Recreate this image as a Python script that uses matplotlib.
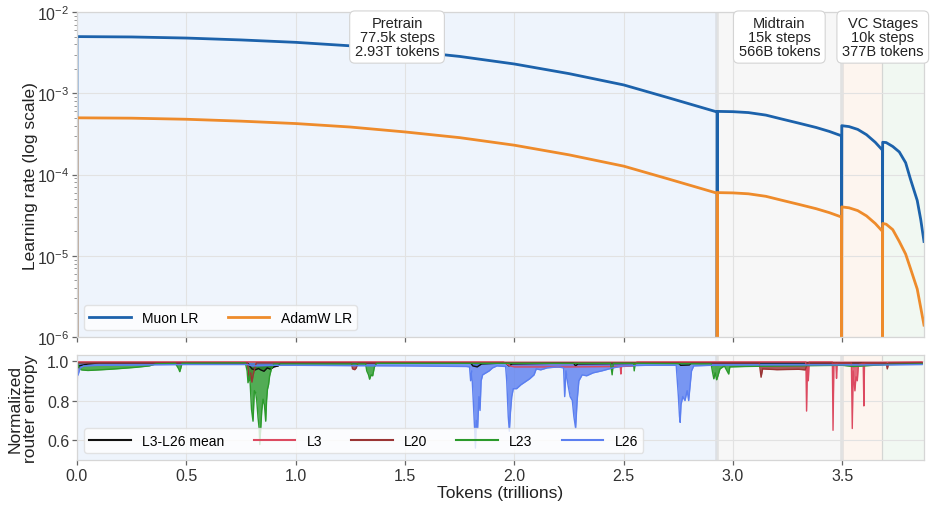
import matplotlib.pyplot as plt
from matplotlib.transforms import blended_transform_factory

# DATA
# learning-rate schedule, tokens in trillions (same token grid for both optimizers)
lr_tokens = [0.0, 0.0, 0.25, 0.5, 0.75, 1.0, 1.25, 1.5, 1.75, 2.0, 2.25, 2.5, 2.7, 2.927,
             2.927, 2.928, 3.0, 3.07, 3.15, 3.22, 3.30, 3.38, 3.44, 3.496,
             3.496, 3.497, 3.53, 3.57, 3.61, 3.65, 3.683,
             3.683, 3.684, 3.70, 3.73, 3.76, 3.789, 3.811, 3.842, 3.858, 3.873]
muon_lr = [1e-7, 5.0e-3, 4.95e-3, 4.8e-3, 4.55e-3, 4.25e-3, 3.85e-3, 3.35e-3, 2.85e-3, 2.3e-3, 1.75e-3, 1.27e-3, 8.9e-4, 5.9e-4,
           1e-7, 6.0e-4, 5.95e-4, 5.8e-4, 5.4e-4, 4.85e-4, 4.3e-4, 3.8e-4, 3.4e-4, 3.0e-4,
           3.9e-6, 4.0e-4, 3.9e-4, 3.6e-4, 3.1e-4, 2.5e-4, 2.0e-4,
           2.4e-6, 2.5e-4, 2.48e-4, 2.22e-4, 1.9e-4, 1.4e-4, 8.8e-5, 4.8e-5, 2.8e-5, 1.5e-5]
adamw_lr = [1e-8, 5.0e-4, 4.95e-4, 4.8e-4, 4.55e-4, 4.25e-4, 3.85e-4, 3.35e-4, 2.85e-4, 2.3e-4, 1.75e-4, 1.27e-4, 8.9e-5, 5.9e-5,
            1e-8, 6.0e-5, 5.95e-5, 5.8e-5, 5.4e-5, 4.85e-5, 4.3e-5, 3.8e-5, 3.4e-5, 3.0e-5,
            3.9e-7, 4.0e-5, 3.9e-5, 3.6e-5, 3.1e-5, 2.5e-5, 2.0e-5,
            2.4e-7, 2.5e-5, 2.45e-5, 2.1e-5, 1.5e-5, 1.05e-5, 7.0e-6, 3.9e-6, 2.3e-6, 1.4e-6]

# training stages
stage_edges = [0.0, 2.927, 3.496, 3.683, 3.873]
stage_notes = ["Pretrain\n77.5k steps\n2.93T tokens",
               "Midtrain\n15k steps\n566B tokens",
               "VC Stages\n10k steps\n377B tokens"]
note_spans = [(0, 1), (1, 2), (2, 4)]  # which edges each note covers

# router entropy: lower edge of the logged curves, top of the band
mean_tok = [0.0, 0.01, 0.05, 0.1, 0.78, 0.79, 0.80, 0.815, 0.83, 0.84, 0.855, 0.87, 0.885, 0.9, 0.92, 0.93,
            1.80, 1.81, 1.83, 1.85, 1.96, 1.975, 1.99, 2.27, 2.28, 2.29, 2.75, 2.76, 2.80, 2.81, 3.864]
mean_ent = [0.96, 0.975, 0.985, 0.99, 0.99, 0.975, 0.96, 0.955, 0.962, 0.955, 0.948, 0.965, 0.958, 0.97, 0.975, 0.99,
            0.99, 0.975, 0.97, 0.985, 0.99, 0.975, 0.985, 0.99, 0.975, 0.985, 0.99, 0.978, 0.98, 0.99, 0.99]
mean_top = 0.992

l3_tok = [0.0, 0.003, 1.95, 1.98, 2.0, 2.25, 2.484, 2.487, 2.49, 2.55, 2.56,
          3.333, 3.336, 3.340, 3.344, 3.348, 3.454, 3.457, 3.461, 3.470, 3.473, 3.476,
          3.541, 3.545, 3.549, 3.557, 3.562, 3.568, 3.573, 3.595, 3.598, 3.601, 3.864]
l3_ent = [0.79, 0.995, 0.995, 0.975, 0.97, 0.97, 0.972, 0.934, 0.972, 0.975, 0.995,
          0.995, 0.747, 0.98, 0.90, 0.995, 0.995, 0.65, 0.99, 0.99, 0.912, 0.99,
          0.99, 0.659, 0.95, 0.849, 0.92, 0.90, 0.98, 0.99, 0.773, 0.99, 0.995]
l3_top = 1.0

l20_tok = [0.0, 0.003, 0.78, 0.785, 0.79, 0.795, 0.80, 0.806, 0.812, 0.82, 1.255, 1.26, 1.27, 1.277, 1.285,
           3.12, 3.128, 3.135, 3.2, 3.3, 3.33, 3.34, 3.70, 3.705, 3.712, 3.864]
l20_ent = [0.99, 0.99, 0.99, 0.93, 0.90, 0.94, 0.893, 0.93, 0.96, 0.99, 0.99, 0.96, 0.956, 0.965, 0.99,
           0.99, 0.918, 0.96, 0.956, 0.958, 0.955, 0.99, 0.99, 0.96, 0.99, 0.99]
l20_top = 0.995

l23_tok = [0.0, 0.008, 0.02, 0.05, 0.1, 0.15, 0.2, 0.27, 0.33, 0.36, 0.45, 0.465, 0.47, 0.475, 0.48, 0.77,
           0.778, 0.782, 0.79, 0.798, 0.805, 0.811, 0.817, 0.822, 0.828, 0.833, 0.836, 0.840, 0.845, 0.851,
           0.857, 0.863, 0.867, 0.871, 0.876, 0.881, 0.889, 0.9,
           1.32, 1.325, 1.333, 1.338, 1.345, 1.352, 1.36, 1.37, 2.44, 2.447, 2.452, 2.545, 2.548, 2.552,
           2.9, 2.905, 2.912, 2.918, 2.925, 2.932, 2.94, 2.96, 2.98, 2.985, 3.05, 3.2, 3.5, 3.55, 3.7, 3.864]
l23_ent = [0.995, 0.97, 0.955, 0.952, 0.955, 0.958, 0.962, 0.968, 0.975, 0.985, 0.988, 0.96, 0.946, 0.965, 0.988, 0.99,
           0.95, 0.89, 0.93, 0.756, 0.696, 0.85, 0.84, 0.80, 0.713, 0.66, 0.578, 0.654, 0.75, 0.807,
           0.78, 0.696, 0.80, 0.857, 0.88, 0.925, 0.96, 0.985,
           0.985, 0.95, 0.93, 0.908, 0.93, 0.925, 0.97, 0.988, 0.988, 0.93, 0.988, 0.988, 0.95, 0.988,
           0.985, 0.95, 0.91, 0.94, 0.905, 0.93, 0.96, 0.975, 0.934, 0.97, 0.972, 0.975, 0.978, 0.972, 0.982, 0.985]
l23_top = 0.995

l26_tok = [0.0, 0.005, 0.015, 0.03, 0.1, 0.3, 0.5, 0.78, 0.8, 0.9, 1.0, 1.3, 1.5, 1.78,
           1.795, 1.80, 1.805, 1.812, 1.818, 1.822, 1.826, 1.832, 1.838, 1.843, 1.848, 1.855, 1.87, 1.885, 1.90, 1.92, 1.96,
           1.965, 1.972, 1.977, 1.982, 1.988, 1.995, 2.01, 2.03, 2.05, 2.07, 2.09, 2.1, 2.12, 2.15, 2.2,
           2.225, 2.23, 2.236, 2.245, 2.255, 2.265, 2.272, 2.28, 2.287, 2.295, 2.31, 2.33, 2.36, 2.40, 2.45, 2.5, 2.6, 2.74,
           2.75, 2.755, 2.758, 2.762, 2.77, 2.78, 2.79, 2.797, 2.803, 2.81, 2.82, 2.9, 3.0, 3.5, 3.7, 3.864]
l26_ent = [0.925, 0.93, 0.965, 0.975, 0.978, 0.98, 0.982, 0.982, 0.975, 0.978, 0.978, 0.976, 0.975, 0.972,
           0.97, 0.90, 0.95, 0.80, 0.66, 0.56, 0.70, 0.66, 0.82, 0.75, 0.90, 0.93, 0.94, 0.95, 0.965, 0.975, 0.972,
           0.90, 0.72, 0.645, 0.74, 0.82, 0.86, 0.86, 0.88, 0.895, 0.91, 0.93, 0.96, 0.955, 0.965, 0.97,
           0.965, 0.82, 0.95, 0.88, 0.82, 0.80, 0.72, 0.66, 0.80, 0.90, 0.93, 0.925, 0.94, 0.95, 0.965, 0.975, 0.978, 0.978,
           0.82, 0.72, 0.69, 0.78, 0.82, 0.80, 0.85, 0.80, 0.87, 0.95, 0.975, 0.978, 0.98, 0.98, 0.98, 0.982]
l26_top = 0.993

# STYLE
plt.rcParams['font.family'] = 'Liberation Sans'
plt.rcParams['mathtext.fontset'] = 'custom'
plt.rcParams['mathtext.rm'] = 'Liberation Sans'
plt.rcParams['mathtext.it'] = 'Liberation Sans:italic'

stage_colors = ['#eef4fc', '#f7f7f7', '#fdf5ef', '#f1f8f2']
spine_color = '#d6d6d6'
grid_color = '#e2e2e2'

fig = plt.figure(figsize=(9.34, 5.06), dpi=100)
ax1 = fig.add_axes([0.0824, 0.332, 0.9069, 0.642])
ax2 = fig.add_axes([0.0824, 0.0889, 0.9069, 0.2075], sharex=ax1)

for ax in (ax1, ax2):
    for i in range(len(stage_edges) - 1):
        ax.axvspan(stage_edges[i], stage_edges[i + 1], color=stage_colors[i], lw=0, zorder=0.1)
    ax.axvline(stage_edges[1], color='#c8c8c8', alpha=0.45, lw=2.6, zorder=0.2)
    ax.axvline(stage_edges[2], color='#c8c8c8', alpha=0.45, lw=2.6, zorder=0.2)
    ax.axvline(stage_edges[3], color='#c8c8c8', alpha=0.7, lw=0.9, zorder=0.2)
    ax.set_axisbelow(True)
    ax.grid(True, color=grid_color, lw=0.8)
    for s in ax.spines.values():
        s.set_color(spine_color)
        s.set_linewidth(0.9)
    ax.tick_params(direction='out', length=3.5, width=0.9, pad=2, color='#666666',
                   labelcolor='#333333', labelsize=11.5)

# TOP: learning rate
ax1.plot(lr_tokens, muon_lr, color='#1c62ab', lw=2, label='Muon LR')
ax1.plot(lr_tokens, adamw_lr, color='#ee8b2b', lw=2, label='AdamW LR')
ax1.set_yscale('log')
ax1.set_ylim(1e-6, 1e-2)
ax1.set_xlim(stage_edges[0], stage_edges[-1])
ax1.tick_params(axis='y', which='minor', length=2.2, color='#888888')
ax1.tick_params(axis='x', labelbottom=False)
ax1.set_ylabel('Learning rate (log scale)', fontsize=12.5, color='#222222')
ax1.yaxis.set_label_coords(-0.046, 0.5)
ax1.legend(loc='lower left', ncol=2, fontsize=10, handlelength=3.0, columnspacing=2.1,
           frameon=True, facecolor='white', edgecolor='#dddddd', framealpha=0.8, fancybox=True)

trans = blended_transform_factory(ax1.transData, ax1.transAxes)
for note, (a, b) in zip(stage_notes, note_spans):
    xc = (stage_edges[a] + stage_edges[b]) / 2
    ax1.text(xc, 0.988, note, transform=trans, ha='center', va='top', fontsize=10.5,
             linespacing=1.0, color='#222222', zorder=5,
             bbox=dict(boxstyle='round,pad=0.35', fc='white', ec='#d4d4d4', lw=0.8))

# BOTTOM: router entropy
series = [
    (mean_tok, mean_ent, mean_top, '#111111', 'L3-L26 mean'),
    (l3_tok, l3_ent, l3_top, '#dc4a60', 'L3'),
    (l20_tok, l20_ent, l20_top, '#9a3434', 'L20'),
    (l23_tok, l23_ent, l23_top, '#2b9a2b', 'L23'),
    (l26_tok, l26_ent, l26_top, '#5b7ff0', 'L26'),
]
for tok, ent, top, c, lab in series:
    ax2.fill_between(tok, ent, top, color=c, lw=0, alpha=0.8)
    ax2.plot(tok, ent, color=c, lw=1.0, label=lab)

ax2.set_ylim(0.5, 1.03)
ax2.set_yticks([0.6, 0.8, 1.0])
ax2.set_xticks([0.0, 0.5, 1.0, 1.5, 2.0, 2.5, 3.0, 3.5])
ax2.set_ylabel('Normalized\nrouter entropy', fontsize=12.5, color='#222222', linespacing=1.0)
ax2.yaxis.set_label_coords(-0.046, 0.5)
ax2.set_xlabel('Tokens (trillions)', fontsize=12.5, color='#222222', labelpad=2)
leg = ax2.legend(loc='lower left', ncol=5, fontsize=10, handlelength=3.0, columnspacing=2.1,
                 frameon=True, facecolor='white', edgecolor='#dddddd', framealpha=0.8, fancybox=True)
for h in leg.get_lines():
    h.set_linewidth(1.5)

fig.savefig('out.png', dpi=100)
